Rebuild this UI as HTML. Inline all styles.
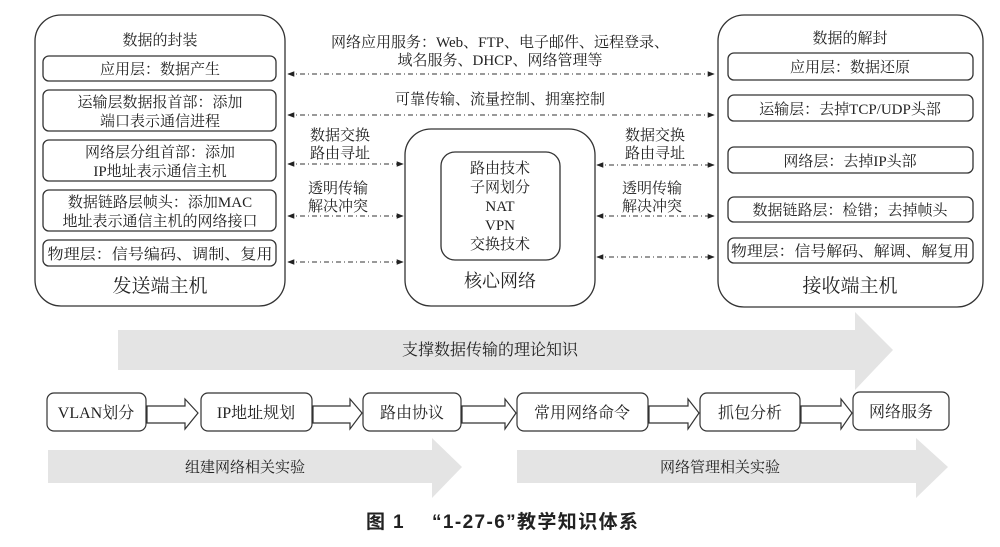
<!DOCTYPE html>
<html><head><meta charset="utf-8"><style>
html,body{margin:0;padding:0;background:#fff;}
svg{display:block;}
text{font-family:"Liberation Serif","Noto Serif CJK SC",serif;fill:#222;}
.s{font-size:15px;}
</style></head><body>
<svg width="1000" height="547" viewBox="0 0 1000 547" xmlns="http://www.w3.org/2000/svg">
<defs>
<marker id="ah" viewBox="0 0 10 10" refX="9" refY="5" markerWidth="7" markerHeight="7" orient="auto-start-reverse"><path d="M0,1 L10,5 L0,9 z" fill="#222"/></marker>
</defs>
<g fill="none" stroke="#333" stroke-width="1.3">
<rect x="35" y="15" width="250" height="291" rx="26"/>
<rect x="43" y="56" width="233" height="25" rx="6"/>
<rect x="43" y="90" width="233" height="41" rx="6"/>
<rect x="43" y="140" width="233" height="41" rx="6"/>
<rect x="43" y="190" width="233" height="41" rx="6"/>
<rect x="43" y="240" width="233" height="26" rx="6"/>
<rect x="405" y="129" width="190" height="177" rx="26"/>
<rect x="441" y="152" width="119" height="108" rx="14"/>
<rect x="718" y="15" width="265" height="292" rx="26"/>
<rect x="728" y="53" width="245" height="27" rx="6"/>
<rect x="728" y="95" width="245" height="26" rx="6"/>
<rect x="728" y="147" width="245" height="26" rx="6"/>
<rect x="728" y="197" width="245" height="25" rx="6"/>
<rect x="728" y="238" width="245" height="25" rx="6"/>
</g>
<g stroke="#333" stroke-width="1" stroke-dasharray="5,3,1,3" marker-start="url(#ah)" marker-end="url(#ah)">
<line x1="288" y1="74" x2="714" y2="74"/>
<line x1="288" y1="115" x2="714" y2="115"/>
<line x1="288" y1="164" x2="403" y2="164"/>
<line x1="288" y1="216" x2="403" y2="216"/>
<line x1="288" y1="262" x2="403" y2="262"/>
<line x1="597" y1="165" x2="714" y2="165"/>
<line x1="597" y1="216" x2="714" y2="216"/>
<line x1="597" y1="257" x2="714" y2="257"/>
</g>
<g class="s" text-anchor="middle">
<text x="160" y="45">数据的封装</text>
<text x="160" y="74">应用层：数据产生</text>
<text x="160" y="107">运输层数据报首部：添加</text>
<text x="160" y="126">端口表示通信进程</text>
<text x="160" y="157">网络层分组首部：添加</text>
<text x="160" y="176">IP地址表示通信主机</text>
<text x="160" y="207">数据链路层帧头：添加MAC</text>
<text x="160" y="226">地址表示通信主机的网络接口</text>
<text x="160" y="259" textLength="225" lengthAdjust="spacingAndGlyphs">物理层：信号编码、调制、复用</text>
<text x="160" y="292" style="font-size:19px">发送端主机</text>
<text x="850" y="43">数据的解封</text>
<text x="850" y="72">应用层：数据还原</text>
<text x="850" y="114">运输层：去掉TCP/UDP头部</text>
<text x="850" y="166">网络层：去掉IP头部</text>
<text x="850" y="215">数据链路层：检错；去掉帧头</text>
<text x="850" y="256" textLength="238" lengthAdjust="spacingAndGlyphs">物理层：信号解码、解调、解复用</text>
<text x="850" y="292" style="font-size:19px">接收端主机</text>
<text x="500" y="173">路由技术</text>
<text x="500" y="192">子网划分</text>
<text x="500" y="211">NAT</text>
<text x="500" y="230">VPN</text>
<text x="500" y="249">交换技术</text>
<text x="500" y="287" style="font-size:18px">核心网络</text>
<text x="500" y="47">网络应用服务：Web、FTP、电子邮件、远程登录、</text>
<text x="500" y="65">域名服务、DHCP、网络管理等</text>
<text x="500" y="104">可靠传输、流量控制、拥塞控制</text>
<text x="340" y="140">数据交换</text>
<text x="340" y="158">路由寻址</text>
<text x="338" y="193">透明传输</text>
<text x="338" y="211">解决冲突</text>
<text x="655" y="140">数据交换</text>
<text x="655" y="158">路由寻址</text>
<text x="652" y="193">透明传输</text>
<text x="652" y="211">解决冲突</text>
</g>
<g fill="#e4e4e4">
<polygon points="118,330 855,330 855,312 893,350 855,390 855,370 118,370"/>
<polygon points="48,450 432,450 432,438 462,467 432,498 432,483 48,483"/>
<polygon points="517,450 916,450 916,438 948,467 916,498 916,483 517,483"/>
</g>
<g class="s" text-anchor="middle">
<text x="490" y="355" style="font-size:16px">支撑数据传输的理论知识</text>
<text x="245" y="472">组建网络相关实验</text>
<text x="720" y="472">网络管理相关实验</text>
</g>
<g fill="#fff" stroke="#333" stroke-width="1.2">
<rect x="47" y="393" width="99" height="38" rx="7"/>
<rect x="201" y="393" width="111" height="38" rx="7"/>
<rect x="363" y="393" width="98" height="38" rx="7"/>
<rect x="517" y="393" width="131" height="38" rx="7"/>
<rect x="700" y="393" width="100" height="38" rx="7"/>
<rect x="853" y="392" width="96" height="38" rx="7"/>
<polygon points="147,406 185,406 185,399 198,413 185,429 185,423 147,423"/>
<polygon points="313,406 350,406 350,399 362,413 350,429 350,423 313,423"/>
<polygon points="462,406 505,406 505,399 516,413 505,429 505,423 462,423"/>
<polygon points="649,406 688,406 688,399 699,413 688,429 688,423 649,423"/>
<polygon points="801,406 841,406 841,399 852,413 841,429 841,423 801,423"/>
</g>
<g class="s" text-anchor="middle" style="font-size:16px">
<text x="96" y="418">VLAN划分</text>
<text x="256" y="418">IP地址规划</text>
<text x="412" y="418">路由协议</text>
<text x="582" y="418">常用网络命令</text>
<text x="750" y="418">抓包分析</text>
<text x="901" y="417">网络服务</text>
</g>
<text x="502" y="528" text-anchor="middle" textLength="272" lengthAdjust="spacing" style="font-family:'Liberation Sans','Noto Sans CJK SC',sans-serif;font-size:19px;font-weight:bold;">图 1　 “1-27-6”教学知识体系</text>
</svg>
</body></html>
